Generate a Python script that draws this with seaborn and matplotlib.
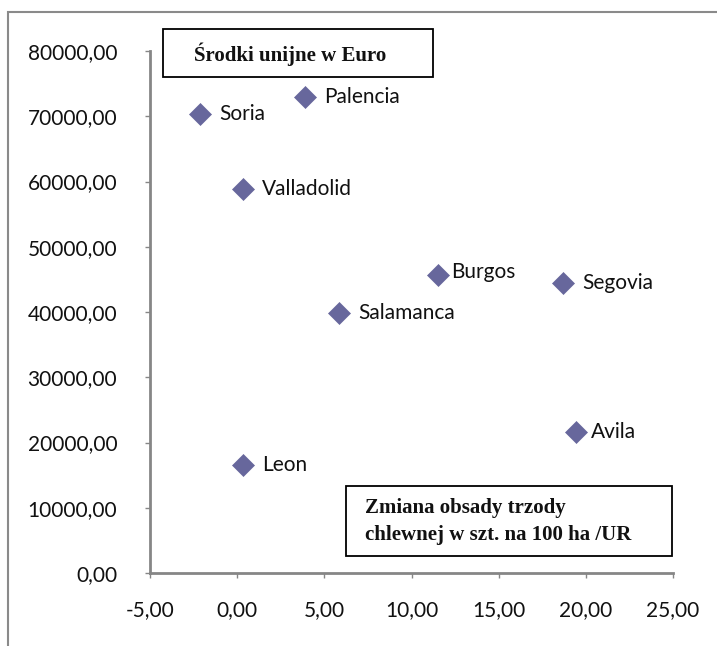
import matplotlib
matplotlib.use("Agg")
import matplotlib.pyplot as plt
import seaborn as sns
import pandas as pd
from matplotlib.ticker import FuncFormatter, MultipleLocator
from matplotlib.patches import Rectangle

# Data
regions = ["Soria", "Palencia", "Valladolid", "Burgos", "Segovia", "Salamanca", "Avila", "Leon"]
pig_change = [-2.13, 3.89, 0.34, 11.52, 18.69, 5.84, 19.44, 0.34]
eu_funds = [70350, 72950, 58850, 45700, 44450, 39850, 21600, 16550]

df = pd.DataFrame({"region": regions, "x": pig_change, "y": eu_funds})

sns.set_theme(style="white")
plt.rcParams['font.family'] = ['Lato', 'DejaVu Sans']

W, H = 717, 646
fig = plt.figure(figsize=(W / 100, H / 100), dpi=100)
ax = fig.add_axes([150 / W, 1 - 573 / H, (673 - 150) / W, (573 - 51) / H])

sns.scatterplot(data=df, x="x", y="y", ax=ax, marker="D", s=125,
                color="#67679c", edgecolor="#67679c", linewidth=0.5, zorder=3, clip_on=False)

# label offsets in pixels (dx, dy)
offsets = {"Burgos": (13, 3), "Avila": (15, 0)}
for r, xv, yv in zip(regions, pig_change, eu_funds):
    dx, dy = offsets.get(r, (19, 0))
    ax.annotate(r, (xv, yv), xytext=(dx * 0.72, dy * 0.72), textcoords="offset points",
                fontsize=15, va="center", ha="left", color="#111111")

ax.set_xlim(-5, 25)
ax.set_ylim(0, 80000)
ax.xaxis.set_major_locator(MultipleLocator(5))
ax.yaxis.set_major_locator(MultipleLocator(10000))
fmt = FuncFormatter(lambda v, p: f"{v:.2f}".replace(".", ","))
ax.xaxis.set_major_formatter(fmt)
ax.yaxis.set_major_formatter(fmt)
ax.set_xlabel("")
ax.set_ylabel("")

for s in ["top", "right"]:
    ax.spines[s].set_visible(False)
for s in ["left", "bottom"]:
    ax.spines[s].set_color("#868686")
    ax.spines[s].set_linewidth(2)
ax.tick_params(axis="both", which="major", direction="out", length=3.6, width=1,
               color="#868686", labelsize=15, labelcolor="#111111")
ax.tick_params(axis="y", pad=20)
ax.tick_params(axis="x", pad=16)
ax.xaxis.set_ticks_position("bottom")
ax.yaxis.set_ticks_position("left")

# Outer chart border (cropped at right and bottom)
fig.add_artist(Rectangle((8 / W, -0.1), 1.2, 1.1 - 12 / H, transform=fig.transFigure,
                         fill=False, edgecolor="#8a8a8a", linewidth=1.5))

# Text boxes
serif = ['Liberation Serif', 'DejaVu Serif']
fig.add_artist(Rectangle((163 / W, 1 - 77 / H), (433 - 163) / W, (77 - 29) / H,
                         transform=fig.transFigure, fill=True, facecolor="white",
                         edgecolor="black", linewidth=1.3))
fig.text(194 / W, 1 - 54 / H, "Środki unijne w Euro", family=serif, fontweight="bold",
         fontsize=15, va="center", ha="left", color="#111111")

fig.add_artist(Rectangle((346 / W, 1 - 556 / H), (672 - 346) / W, (556 - 486) / H,
                         transform=fig.transFigure, fill=True, facecolor="white",
                         edgecolor="black", linewidth=1.3))
fig.text(365 / W, 1 - 508 / H, "Zmiana obsady trzody", family=serif, fontweight="bold",
         fontsize=15, va="center", ha="left", color="#111111")
fig.text(365 / W, 1 - 535 / H, "chlewnej w szt. na 100 ha /UR", family=serif, fontweight="bold",
         fontsize=15, va="center", ha="left", color="#111111")

fig.savefig("out.png", dpi=100, facecolor="white")
